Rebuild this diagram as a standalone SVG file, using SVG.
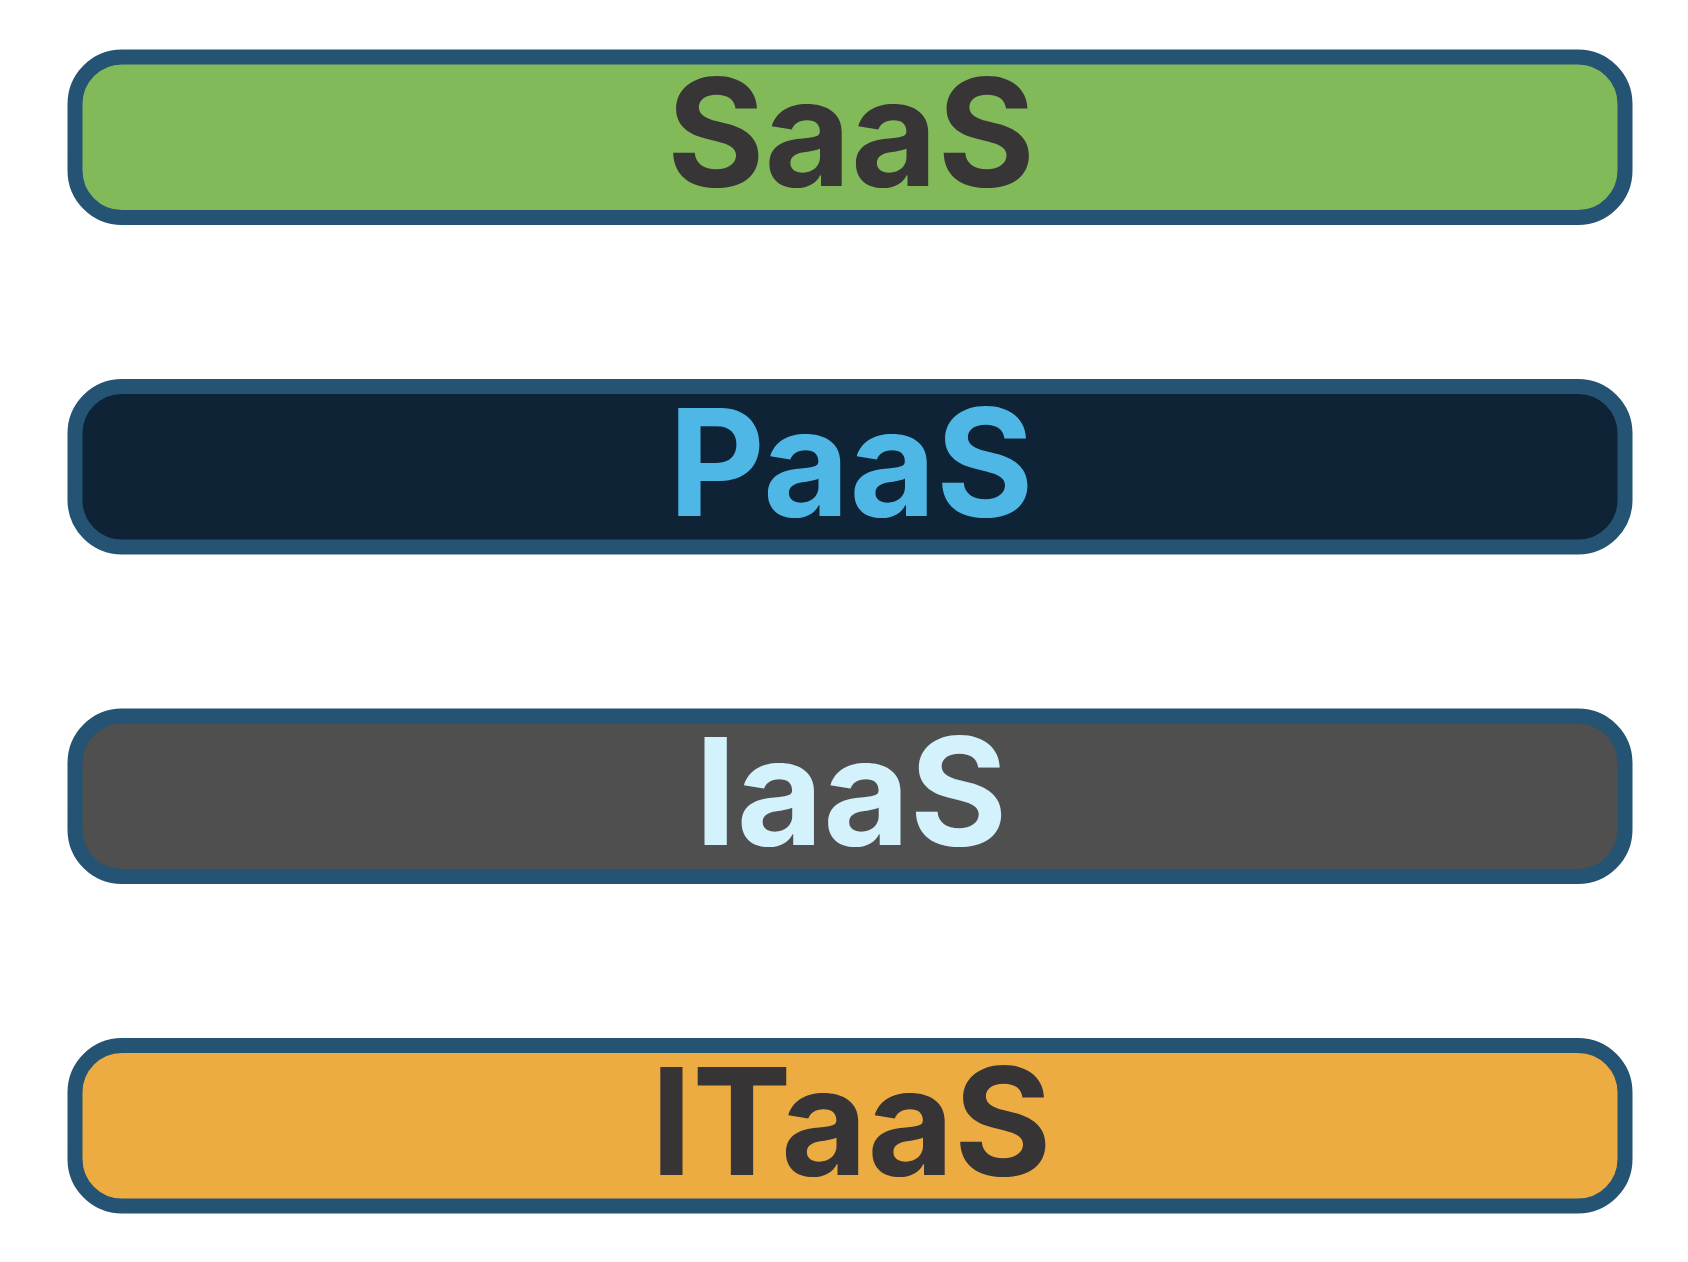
<svg xmlns="http://www.w3.org/2000/svg" width="1688" height="1262" viewBox="0 0 1688 1262">
<style>
.box{stroke:#245373;stroke-width:15}
.lbl{font-family:Inter,"Liberation Sans",sans-serif;font-weight:700;font-size:149px;text-anchor:middle;letter-spacing:0px}
</style>
<rect width="1688" height="1262" fill="#ffffff"/>
<g id="saas"><rect class="box" x="75" y="57" width="1550" height="160.5" rx="47" fill="#82BA5A"/><text class="lbl" x="851" y="186" fill="#383536">SaaS</text></g>
<g id="paas"><rect class="box" x="75" y="386.5" width="1550" height="160.5" rx="47" fill="#0E2336"/><text class="lbl" x="851" y="515.5" fill="#4FB7E6">PaaS</text></g>
<g id="iaas"><rect class="box" x="75" y="716" width="1550" height="160.5" rx="47" fill="#4F4F4F"/><text class="lbl" x="851" y="845" fill="#D3F2FB">IaaS</text></g>
<g id="itaas"><rect class="box" x="75" y="1045.5" width="1550" height="160.5" rx="47" fill="#EDAC42"/><text class="lbl" x="851" y="1174.5" fill="#363435">ITaaS</text></g>
<g id="connectors"></g>
</svg>
